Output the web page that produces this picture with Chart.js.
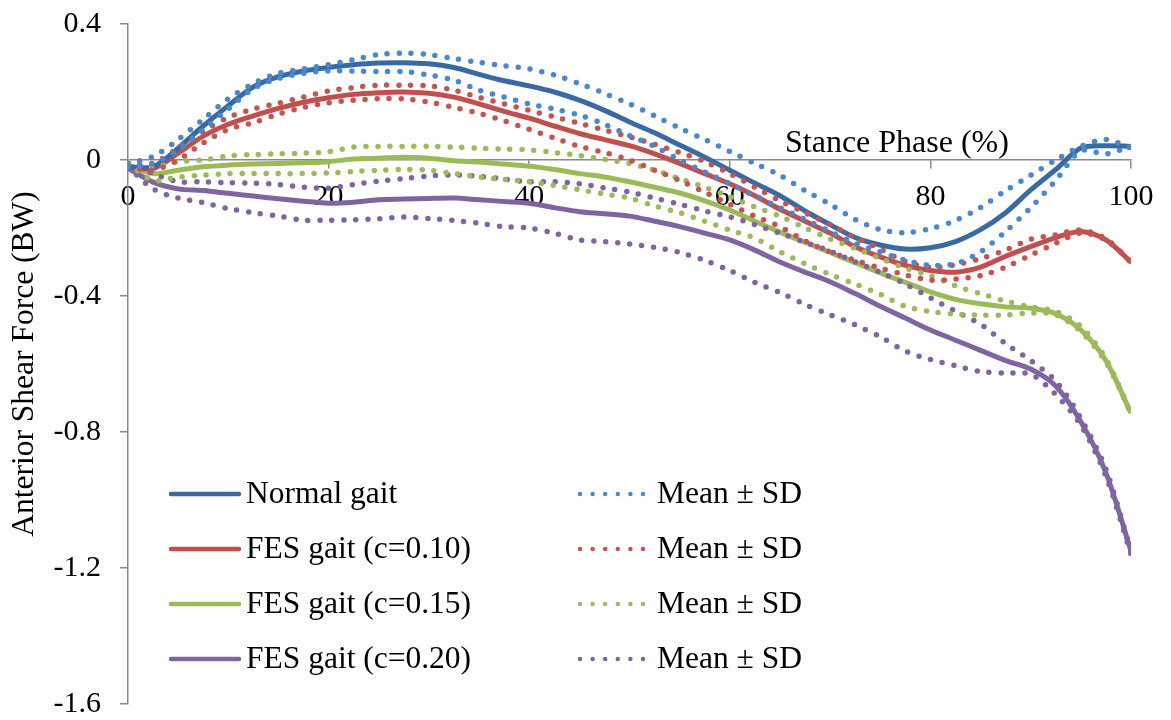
<!DOCTYPE html>
<html lang="en">
<head>
    <meta charset="UTF-8">
    <title>Anterior Shear Force - Stance Phase</title>
    <script src="https://cdn.jsdelivr.net/npm/chart.js"></script>
    <style>
        body { margin: 0; background: #fff; }
        canvas { display: block; }
    </style>
</head>
<body>
    <canvas id="shearChart" width="1171" height="720"></canvas>
    <script>
        // stance phase (%) sample points
        const stance = [0, 2.5, 5, 7.5, 10, 12.5, 15, 17.5, 20, 22.5, 25, 27.5, 30, 32.5, 35, 37.5, 40,
            42.5, 45, 47.5, 50, 52.5, 55, 57.5, 60, 62.5, 65, 67.5, 70, 72.5, 75, 77.5, 80, 82.5, 85,
            87.5, 90, 92.5, 95, 97.5, 100];

        // anterior shear force (BW)
        const normalGait = [-0.02, -0.02, 0.035, 0.10, 0.16, 0.215, 0.245, 0.262, 0.272, 0.28, 0.285, 0.286, 0.283, 0.272, 0.252, 0.233, 0.218, 0.2, 0.176, 0.146, 0.112, 0.08, 0.044, 0.008, -0.03, -0.068, -0.105, -0.15, -0.19, -0.228, -0.25, -0.262, -0.258, -0.24, -0.205, -0.155, -0.088, -0.028, 0.035, 0.042, 0.04];
        const normalUpper = [-0.01, 0.01, 0.06, 0.12, 0.18, 0.225, 0.255, 0.268, 0.28, 0.295, 0.31, 0.314, 0.31, 0.298, 0.287, 0.277, 0.268, 0.25, 0.225, 0.196, 0.165, 0.13, 0.094, 0.06, 0.025, -0.01, -0.045, -0.09, -0.13, -0.175, -0.205, -0.214, -0.202, -0.178, -0.14, -0.09, -0.045, 0.0, 0.04, 0.06, 0.035];
        const normalLower = [-0.02, -0.01, 0.03, 0.09, 0.15, 0.21, 0.24, 0.255, 0.262, 0.262, 0.26, 0.26, 0.25, 0.235, 0.205, 0.185, 0.165, 0.15, 0.132, 0.105, 0.072, 0.04, 0.0, -0.035, -0.07, -0.105, -0.14, -0.175, -0.21, -0.245, -0.27, -0.295, -0.31, -0.305, -0.27, -0.21, -0.14, -0.06, 0.027, 0.018, 0.04];

        const fes10 = [-0.02, -0.025, 0.02, 0.07, 0.105, 0.13, 0.152, 0.17, 0.183, 0.193, 0.198, 0.2, 0.196, 0.185, 0.165, 0.143, 0.123, 0.1, 0.078, 0.06, 0.042, 0.018, -0.01, -0.04, -0.07, -0.105, -0.145, -0.18, -0.215, -0.255, -0.285, -0.31, -0.325, -0.33, -0.315, -0.283, -0.255, -0.228, -0.21, -0.235, -0.30];
        const fes10Upper = [-0.02, -0.01, 0.035, 0.085, 0.125, 0.15, 0.167, 0.185, 0.203, 0.213, 0.22, 0.22, 0.218, 0.205, 0.184, 0.165, 0.146, 0.127, 0.108, 0.088, 0.068, 0.046, 0.022, -0.005, -0.04, -0.08, -0.12, -0.155, -0.19, -0.228, -0.262, -0.298, -0.315, -0.308, -0.29, -0.265, -0.233, -0.22, -0.206, -0.232, -0.30];
        const fes10Lower = [-0.02, -0.03, 0.0, 0.05, 0.09, 0.11, 0.135, 0.155, 0.168, 0.176, 0.18, 0.18, 0.17, 0.155, 0.137, 0.115, 0.09, 0.065, 0.04, 0.022, 0.0, -0.03, -0.06, -0.095, -0.13, -0.165, -0.196, -0.238, -0.27, -0.295, -0.318, -0.338, -0.353, -0.35, -0.34, -0.315, -0.28, -0.245, -0.215, -0.236, -0.30];

        const fes15 = [-0.015, -0.04, -0.03, -0.02, -0.015, -0.012, -0.01, -0.008, -0.005, 0.003, 0.005, 0.008, 0.005, -0.002, -0.006, -0.012, -0.018, -0.028, -0.04, -0.05, -0.064, -0.08, -0.097, -0.12, -0.147, -0.18, -0.212, -0.242, -0.272, -0.302, -0.332, -0.36, -0.388, -0.41, -0.423, -0.432, -0.436, -0.452, -0.5, -0.59, -0.745];
        const fes15Upper = [-0.005, -0.02, -0.005, 0.0, 0.012, 0.016, 0.018, 0.02, 0.024, 0.038, 0.04, 0.04, 0.04, 0.038, 0.035, 0.032, 0.03, 0.022, 0.013, 0.002, -0.01, -0.03, -0.055, -0.08, -0.108, -0.138, -0.165, -0.2, -0.232, -0.26, -0.29, -0.318, -0.34, -0.37, -0.393, -0.415, -0.432, -0.445, -0.49, -0.585, -0.745];
        const fes15Lower = [-0.01, -0.06, -0.05, -0.045, -0.04, -0.04, -0.04, -0.04, -0.038, -0.034, -0.03, -0.028, -0.03, -0.04, -0.05, -0.057, -0.064, -0.075, -0.087, -0.1, -0.112, -0.135, -0.155, -0.18, -0.206, -0.23, -0.27, -0.305, -0.337, -0.365, -0.395, -0.43, -0.446, -0.453, -0.456, -0.456, -0.45, -0.455, -0.505, -0.595, -0.745];

        const fes20 = [-0.025, -0.065, -0.085, -0.09, -0.098, -0.106, -0.114, -0.121, -0.127, -0.124, -0.117, -0.115, -0.113, -0.112, -0.117, -0.122, -0.127, -0.14, -0.152, -0.158, -0.165, -0.18, -0.196, -0.215, -0.235, -0.265, -0.3, -0.33, -0.358, -0.393, -0.43, -0.465, -0.5, -0.53, -0.56, -0.59, -0.615, -0.665, -0.77, -0.92, -1.15];
        const fes20Upper = [-0.01, -0.04, -0.064, -0.064, -0.067, -0.068, -0.072, -0.08, -0.083, -0.072, -0.062, -0.055, -0.047, -0.044, -0.048, -0.056, -0.064, -0.064, -0.07, -0.082, -0.094, -0.112, -0.13, -0.15, -0.167, -0.19, -0.215, -0.242, -0.268, -0.3, -0.33, -0.365, -0.405, -0.445, -0.483, -0.54, -0.59, -0.65, -0.76, -0.91, -1.15];
        const fes20Lower = [-0.02, -0.085, -0.112, -0.125, -0.143, -0.155, -0.165, -0.177, -0.177, -0.176, -0.173, -0.168, -0.172, -0.178, -0.186, -0.196, -0.2, -0.215, -0.235, -0.24, -0.247, -0.257, -0.272, -0.295, -0.325, -0.36, -0.39, -0.425, -0.455, -0.485, -0.52, -0.562, -0.587, -0.605, -0.622, -0.627, -0.63, -0.69, -0.78, -0.93, -1.16];

        const seriesNames = ['Normal gait', 'FES gait (c=0.10)', 'FES gait (c=0.15)', 'FES gait (c=0.20)'];
        const sdLabel = 'Mean \u00b1 SD';

        const solidColors = ['#3a6aa3', '#c0504d', '#9bbb59', '#8064a2'];
        const dotColors = ['#4a87cd', '#c65350', '#9bbb59', '#8064a2'];
        const FONT = '"Liberation Serif", "Times New Roman", serif';

        const groups = [
            { mean: normalGait, upper: normalUpper, lower: normalLower },
            { mean: fes10, upper: fes10Upper, lower: fes10Lower },
            { mean: fes15, upper: fes15Upper, lower: fes15Lower },
            { mean: fes20, upper: fes20Upper, lower: fes20Lower }
        ];

        const toPoints = vals => vals.map((v, i) => ({ x: stance[i], y: v }));

        const datasets = [];
        groups.forEach((g, i) => {
            datasets.push({
                label: seriesNames[i],
                data: toPoints(g.mean),
                borderColor: solidColors[i],
                borderWidth: 5,
                order: 1
            });
        });
        groups.forEach((g, i) => {
            [g.upper, g.lower].forEach(arr => {
                datasets.push({
                    label: sdLabel,
                    data: toPoints(arr),
                    borderColor: dotColors[i],
                    borderWidth: 5.5,
                    borderDash: [0, 12],
                    borderCapStyle: 'round',
                    order: 0
                });
            });
        });

        // legend in two columns inside the plot
        const legendBox = {
            id: 'legendBox',
            afterDraw(chart) {
                const ctx = chart.ctx;
                ctx.save();
                ctx.font = '31.5px ' + FONT;
                ctx.fillStyle = '#000';
                ctx.textBaseline = 'middle';
                ctx.textAlign = 'left';
                ctx.lineCap = 'round';
                seriesNames.forEach((name, i) => {
                    const y = 494 + i * 55;
                    ctx.setLineDash([]);
                    ctx.lineWidth = 4.5;
                    ctx.strokeStyle = solidColors[i];
                    ctx.beginPath();
                    ctx.moveTo(171, y);
                    ctx.lineTo(239, y);
                    ctx.stroke();
                    ctx.fillText(name, 246, y + 1);

                    ctx.setLineDash([0, 12.6]);
                    ctx.lineWidth = 4.5;
                    ctx.strokeStyle = dotColors[i];
                    ctx.beginPath();
                    ctx.moveTo(580, y);
                    ctx.lineTo(643.5, y);
                    ctx.stroke();
                    ctx.fillText(sdLabel, 657, y + 1);
                });
                ctx.restore();
            }
        };

        // x axis title sits above the zero line
        const xTitle = {
            id: 'xTitle',
            afterDraw(chart) {
                const ctx = chart.ctx;
                ctx.save();
                ctx.font = '32px ' + FONT;
                ctx.fillStyle = '#000';
                ctx.textAlign = 'left';
                ctx.textBaseline = 'alphabetic';
                ctx.fillText('Stance Phase (%)', 785, 152);
                ctx.restore();
            }
        };

        const axisGray = '#898989';

        new Chart(document.getElementById('shearChart'), {
            type: 'line',
            data: { datasets: datasets },
            options: {
                responsive: false,
                animation: false,
                layout: { padding: { left: 0, top: 24, right: 40, bottom: 16 } },
                elements: {
                    point: { radius: 0 },
                    line: { tension: 0.3, fill: false }
                },
                plugins: {
                    legend: { display: false },
                    tooltip: { enabled: false }
                },
                scales: {
                    x: {
                        type: 'linear',
                        position: { y: 0 },
                        min: 0,
                        max: 100,
                        ticks: {
                            stepSize: 20,
                            color: '#000',
                            padding: 11,
                            maxRotation: 0,
                            font: { family: FONT, size: 30 }
                        },
                        grid: { drawOnChartArea: false, tickLength: 8, color: axisGray, lineWidth: 1.5 },
                        border: { color: axisGray, width: 1.5 },
                        afterFit(scale) {
                            scale.paddingLeft = 0;
                            scale.paddingRight = 0;
                        }
                    },
                    y: {
                        min: -1.6,
                        max: 0.4,
                        ticks: {
                            stepSize: 0.4,
                            color: '#000',
                            padding: 19,
                            font: { family: FONT, size: 30 }
                        },
                        grid: { drawOnChartArea: false, tickLength: 8, color: axisGray, lineWidth: 1.5 },
                        border: { color: axisGray, width: 1.5 },
                        title: {
                            display: true,
                            text: 'Anterior Shear Force (BW)',
                            color: '#000',
                            font: { family: FONT, size: 31.5 },
                            padding: { top: 6, bottom: 0 }
                        },
                        afterFit(scale) {
                            scale.width = 128;
                            scale.paddingTop = 0;
                            scale.paddingBottom = 0;
                        }
                    }
                }
            },
            plugins: [legendBox, xTitle]
        });
    </script>
</body>
</html>
